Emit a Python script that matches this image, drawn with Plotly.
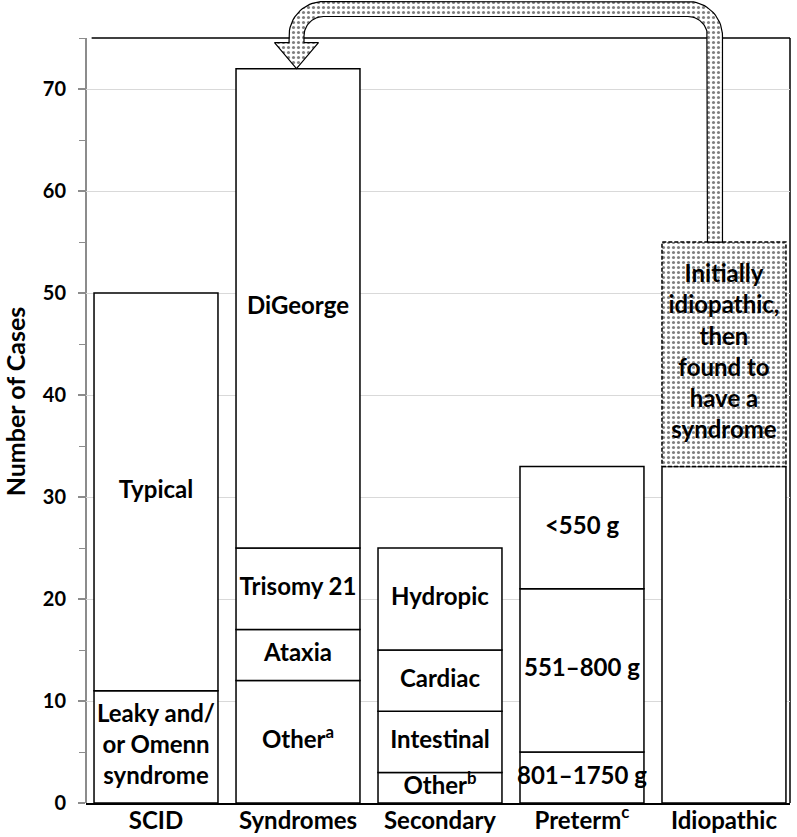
import numpy as np
import plotly.graph_objects as go

# ---------------- data ----------------
categories = ["SCID", "Syndromes", "Secondary", "Preterm<sup>c</sup>", "Idiopathic"]

# stacked segments, listed bottom -> top
scid_values = [11, 39]
scid_labels = ["Leaky and/<br>or Omenn<br>syndrome", "Typical"]
syndromes_values = [12, 5, 8, 47]
syndromes_labels = ["Other<sup>a</sup>", "Ataxia", "Trisomy 21", "DiGeorge"]
secondary_values = [3, 6, 6, 10]
secondary_labels = ["Other<sup>b</sup>", "Intestinal", "Cardiac", "Hydropic"]
preterm_values = [5, 16, 12]
preterm_labels = ["801–1750 g", "551–800 g", "&lt;550 g"]
idiopathic_values = [33]
idiopathic_labels = [""]

# idiopathic cases later reclassified as syndromes (dotted, dashed segment)
reclassified_value = 22
reclassified_label = "Initially<br>idiopathic,<br>then<br>found to<br>have a<br>syndrome"

y_tick_values = [0, 10, 20, 30, 40, 50, 60, 70]
y_frame_max = 75

all_values = [scid_values, syndromes_values, secondary_values, preterm_values, idiopathic_values]
all_labels = [scid_labels, syndromes_labels, secondary_labels, preterm_labels, idiopathic_labels]

# ---------------- layout constants ----------------
FIG_W, FIG_H = 797, 837
M_L, M_R, M_T, M_B = 86, 7, 0, 34
X_RANGE = [-0.493, 4.465]
Y_RANGE = [0, 78.73]
BAR_W = 0.873
FONT = "Lato"

PLOT_W = FIG_W - M_L - M_R
PLOT_H = FIG_H - M_T - M_B


def px_of(x):
    return M_L + (x - X_RANGE[0]) / (X_RANGE[1] - X_RANGE[0]) * PLOT_W


def py_of(y):
    return M_T + (Y_RANGE[1] - y) / (Y_RANGE[1] - Y_RANGE[0]) * PLOT_H


def x_of(px):
    return X_RANGE[0] + (px - M_L) / PLOT_W * (X_RANGE[1] - X_RANGE[0])


def y_of(py):
    return Y_RANGE[1] - (py - M_T) / PLOT_H * (Y_RANGE[1] - Y_RANGE[0])


DOTS = dict(shape=".", fgcolor="black", bgcolor="white", size=5, solidity=0.3)

fig = go.Figure()

# solid stacked segments
bx, by, bbase, tx, ty, tt = [], [], [], [], [], []
for i, (vals, labs) in enumerate(zip(all_values, all_labels)):
    cum = np.concatenate([[0], np.cumsum(vals)[:-1]])
    for v, b, lab in zip(vals, cum, labs):
        bx.append(i)
        by.append(v)
        bbase.append(b)
        tx.append(i)
        ty.append(b + v / 2)
        tt.append(lab)

fig.add_trace(go.Bar(
    x=bx, y=by, base=bbase, width=BAR_W,
    marker=dict(color="white", line=dict(color="black", width=1.5)),
    hoverinfo="skip", showlegend=False,
))

# reclassified (dotted) segment on top of idiopathic
idx_idio = 4
idio_total = sum(idiopathic_values)
fig.add_trace(go.Bar(
    x=[idx_idio], y=[reclassified_value], base=[idio_total], width=BAR_W,
    marker=dict(color="white", line=dict(width=0), pattern=DOTS),
    hoverinfo="skip", showlegend=False,
))
top = idio_total + reclassified_value
fig.add_trace(go.Scatter(
    x=[idx_idio - BAR_W / 2, idx_idio + BAR_W / 2, idx_idio + BAR_W / 2, idx_idio - BAR_W / 2, idx_idio - BAR_W / 2],
    y=[idio_total, idio_total, top, top, idio_total],
    mode="lines", line=dict(color="black", width=1.5, dash="4px,2px"),
    hoverinfo="skip", showlegend=False,
))

# ---------------- curved arrow (idiopathic -> syndromes) ----------------
idx_syn = 1
syn_total = sum(syndromes_values)
cx_r = px_of(idx_idio) - 9
cx_l = px_of(idx_syn) - 1.5
half = 7.5
yc = 9
rc = 27
y_start = py_of(top)
tip = py_of(syn_total)
head_h = 26
head_half = 22

pts = [(cx_r - half, y_start)]
for th in np.linspace(0, -np.pi / 2, 20):
    pts.append((cx_r - rc + (rc - half) * np.cos(th), yc + rc + (rc - half) * np.sin(th)))
for th in np.linspace(-np.pi / 2, -np.pi, 20):
    pts.append((cx_l + rc + (rc - half) * np.cos(th), yc + rc + (rc - half) * np.sin(th)))
pts += [(cx_l + half, tip - head_h), (cx_l + head_half, tip - head_h), (cx_l, tip),
        (cx_l - head_half, tip - head_h), (cx_l - half, tip - head_h)]
for th in np.linspace(-np.pi, -np.pi / 2, 20):
    pts.append((cx_l + rc + (rc + half) * np.cos(th), yc + rc + (rc + half) * np.sin(th)))
for th in np.linspace(-np.pi / 2, 0, 20):
    pts.append((cx_r - rc + (rc + half) * np.cos(th), yc + rc + (rc + half) * np.sin(th)))
pts.append((cx_r + half, y_start))
pts.append(pts[0])

fig.add_trace(go.Scatter(
    x=[x_of(p[0]) for p in pts], y=[y_of(p[1]) for p in pts],
    mode="lines", fill="toself", fillcolor="white", fillpattern=DOTS,
    line=dict(color="black", width=1.2), cliponaxis=False,
    hoverinfo="skip", showlegend=False,
))

# ---------------- labels ----------------
tx.append(idx_idio)
ty.append(idio_total + reclassified_value / 2)
tt.append(reclassified_label)
fig.add_trace(go.Scatter(
    x=tx, y=ty, text=tt, mode="text",
    textfont=dict(family=FONT, size=24, color="black", weight="bold"),
    cliponaxis=False, hoverinfo="skip", showlegend=False,
))

fig.update_layout(
    width=FIG_W, height=FIG_H,
    margin=dict(l=M_L, r=M_R, t=M_T, b=M_B, autoexpand=False),
    plot_bgcolor="white", paper_bgcolor="white",
    barmode="overlay", showlegend=False,
    xaxis=dict(
        range=X_RANGE, tickmode="array", tickvals=list(range(len(categories))), ticktext=categories,
        showgrid=False, zeroline=False, showline=True, linecolor="black", linewidth=1.5,
        ticks="", ticklabelstandoff=-5, automargin=False,
        tickfont=dict(family=FONT, size=24, color="black", weight="bold"),
    ),
    yaxis=dict(
        range=Y_RANGE, tickmode="array", tickvals=y_tick_values, automargin=False,
        showgrid=True, gridcolor="#d9d9d9", gridwidth=1, zeroline=False, showline=False,
        ticks="outside", ticklen=7, tickcolor="#8c8c8c", tickwidth=1.5, ticklabelstandoff=8,
        minor=dict(tick0=0, dtick=5, ticks="outside", ticklen=6, tickcolor="#8c8c8c", tickwidth=1, showgrid=False),
        tickfont=dict(family=FONT, size=20, color="black", weight="bold"),
        title=dict(text="Number of Cases", font=dict(family=FONT, size=25, color="black", weight="bold"), standoff=16),
    ),
    shapes=[
        dict(type="line", xref="paper", yref="y", x0=0, x1=0, y0=0, y1=y_frame_max,
             line=dict(color="#8c8c8c", width=2), layer="below"),
        dict(type="line", xref="paper", yref="y", x0=0.008, x1=1, y0=y_frame_max, y1=y_frame_max,
             line=dict(color="black", width=1.5), layer="below"),
        dict(type="line", xref="paper", yref="y", x0=1, x1=1, y0=0, y1=y_frame_max,
             line=dict(color="black", width=1.5), layer="below"),
    ],
)

fig.write_html("out.html", config={"displayModeBar": False},
               post_script="document.body.style.margin='0px';")
